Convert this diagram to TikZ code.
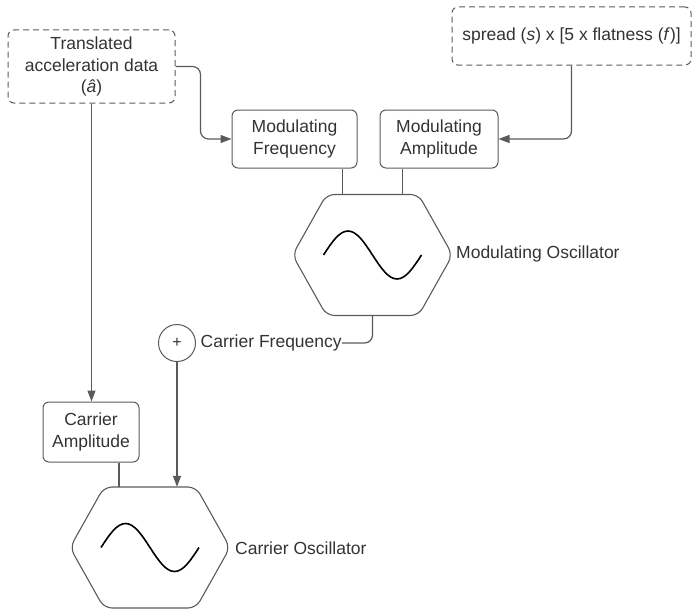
\documentclass[tikz,border=0pt]{standalone}
\usepackage{fontspec}
\setmainfont{Liberation Sans}
\usetikzlibrary{arrows.meta,calc}
\definecolor{lc}{HTML}{5A5A5A}
\definecolor{tc}{HTML}{333333}
\tikzset{
  txt/.style={text=tc, font=\fontsize{17.5}{21.5}\selectfont},
  box/.style={txt, draw=lc, line width=1pt, rounded corners=6pt, align=center, inner sep=0pt},
  dbox/.style={box, dash pattern=on 6pt off 4pt},
  conn/.style={draw=lc, line width=1.2pt},
  arr/.style={-{Triangle[length=11pt,width=8pt]}},
  hexline/.style={draw=lc, line width=1.1pt, rounded corners=8pt},
  sine/.style={draw=black, line width=1.6pt},
  lbl/.style={txt, inner sep=0pt},
  oscarea/.style={draw=none, minimum width=157pt, minimum height=121pt, inner sep=0pt},
}
\newcommand\hexof[1]{%
  \draw[hexline] ($(#1.center)+(-80,0)$) -- ($(#1.center)+(-46,-60.5)$) -- ($(#1.center)+(46,-60.5)$)
    -- ($(#1.center)+(80,0)$) -- ($(#1.center)+(46,60.5)$) -- ($(#1.center)+(-46,60.5)$) -- cycle;
  \begin{scope}[shift={(#1.center)}]
    \draw[sine] (-49,0) sin (-24.5,-24) cos (0,0) sin (24.5,24) cos (49,0);
  \end{scope}}
\begin{document}
\begin{tikzpicture}[x=1pt, y=-1pt]
\useasboundingbox (0,0) rectangle (692,610);

\node[dbox, minimum width=167pt, minimum height=73pt] (tad) at (91.5,66.5) {Translated\\acceleration data\\(\textit{â})};
\node[dbox, minimum width=239pt, minimum height=58pt] (spr) at (571.5,36) {spread (\textit{s}) x [5 x flatness (\textit{f})]};

\node[box, minimum width=125pt, minimum height=58pt] (mf) at (294.5,139) {Modulating\\Frequency};
\node[box, minimum width=118pt, minimum height=58pt] (ma) at (439,139) {Modulating\\Amplitude};

\node[oscarea] (mo) at (372.5,255) {};
\hexof{mo}
\node[lbl, anchor=west] (mol) at (456,254) {Modulating Oscillator};

\node[circle, draw=lc, line width=1pt, minimum size=37pt, inner sep=0pt, text=tc, font=\fontsize{16}{18}\selectfont] (plus) at (177,343) {+};
\node[lbl, anchor=west] (cf) at (200.5,343) {Carrier Frequency};

\node[box, minimum width=96pt, minimum height=60pt] (ca) at (91,432) {Carrier\\Amplitude};

\node[oscarea] (co) at (150,547.5) {};
\hexof{co}
\node[lbl, anchor=west] (col) at (235,548) {Carrier Oscillator};

% connectors
\draw[conn, arr, rounded corners=8pt] (tad.east) -- ++(25,0) |- (mf.west);
\draw[conn, arr, rounded corners=8pt] (spr.south) |- (ma.east);
\draw[conn, arr] (tad.south) -- (tad.south |- ca.north);
\draw[conn] ($(mo.north)+(-30,0)$) coordinate (m1) -- (m1 |- mf.south);
\draw[conn] ($(mo.north)+(30,0)$) coordinate (m2) -- (m2 |- ma.south);
\draw[conn, rounded corners=8pt] (mo.south) |- (cf.east);
\draw[conn, arr] (plus.south) -- (plus.south |- co.north);
\draw[conn] ($(co.north)+(-31,0)$) coordinate (c1) -- (c1 |- ca.south);
\end{tikzpicture}
\end{document}
